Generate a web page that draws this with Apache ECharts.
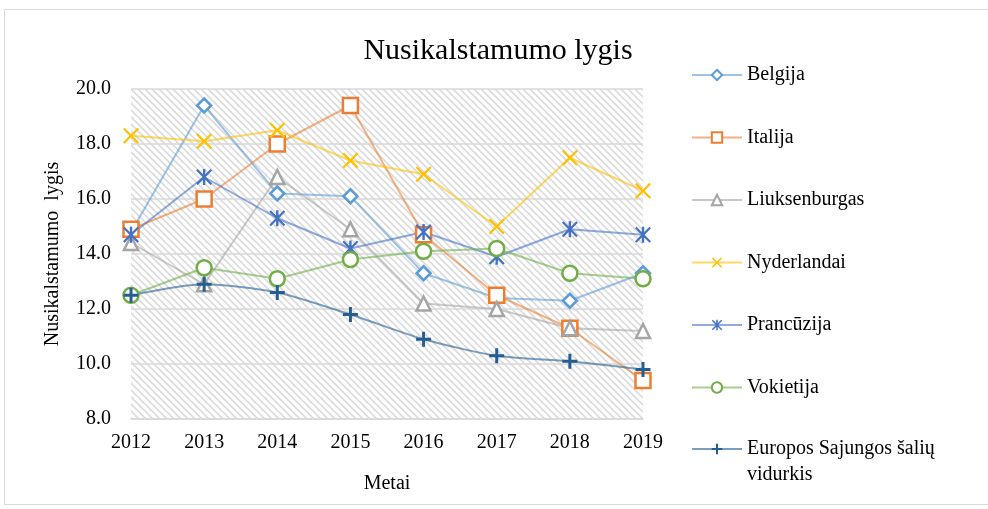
<!DOCTYPE html>
<html>
<head>
<meta charset="utf-8">
<script src="https://cdn.jsdelivr.net/npm/echarts@6/dist/echarts.min.js"></script>
<style>
  html, body { margin: 0; padding: 0; background: #fff; }
  #chart { width: 988px; height: 509px; }
</style>
</head>
<body>
<div id="chart"></div>
<script>
const years = ['2012', '2013', '2014', '2015', '2016', '2017', '2018', '2019'];

const belgija = [14.8, 19.4, 16.2, 16.1, 13.3, 12.4, 12.3, 13.3];
const italija = [14.9, 16.0, 18.0, 19.4, 14.7, 12.5, 11.3, 9.4];
const liuksenburgas = [14.4, 12.9, 16.8, 14.9, 12.2, 12.0, 11.3, 11.2];
const nyderlandai = [18.3, 18.1, 18.5, 17.4, 16.9, 15.0, 17.5, 16.3];
const prancuzija = [14.7, 16.8, 15.3, 14.2, 14.8, 13.9, 14.9, 14.7];
const vokietija = [12.5, 13.5, 13.1, 13.8, 14.1, 14.2, 13.3, 13.1];
const esVidurkis = [12.5, 12.9, 12.6, 11.8, 10.9, 10.3, 10.1, 9.8];

const serif = '"Liberation Serif", "DejaVu Serif", serif';

// diagonal hatch for the plot background
const hatch = document.createElement('canvas');
hatch.width = 7;
hatch.height = 7;
(function () {
  const c = hatch.getContext('2d');
  c.fillStyle = '#fff';
  c.fillRect(0, 0, 7, 7);
  c.strokeStyle = '#dcdcdc';
  c.lineWidth = 1.6;
  c.beginPath();
  c.moveTo(-1, -1); c.lineTo(8, 8);
  c.moveTo(-1, 6); c.lineTo(1, 8);
  c.moveTo(6, -1); c.lineTo(8, 1);
  c.stroke();
})();

const xMark = 'path://M0,2L2,0L10,8L18,0L20,2L12,10L20,18L18,20L10,12L2,20L0,18L8,10Z';
const starMark = 'path://M0,2L2,0L10,8L18,0L20,2L12,10L20,18L18,20L10,12L2,20L0,18L8,10Z M8.5,0H11.5V20H8.5Z';
const plusMark = 'path://M8,0H12V8H20V12H12V20H8V12H0V8H8Z';

function hollow(name, data, color, symbol, size) {
  return {
    name: name, type: 'line', data: data,
    symbol: symbol, symbolSize: size,
    lineStyle: { color: color, width: 2, opacity: 0.6 },
    itemStyle: { color: '#fff', borderColor: color, borderWidth: 2.5 }
  };
}
function filled(name, data, color, symbol, size, smooth) {
  return {
    name: name, type: 'line', data: data,
    symbol: symbol, symbolSize: size, smooth: smooth || false,
    lineStyle: { color: color, width: 2, opacity: 0.6 },
    itemStyle: { color: color, borderWidth: 0 }
  };
}

const legendText = { fontFamily: serif, fontSize: 20, color: '#000' };

const chart = echarts.init(document.getElementById('chart'));

chart.setOption({
  backgroundColor: '#fff',
  animation: false,
  title: {
    text: 'Nusikalstamumo lygis',
    left: 493,
    textAlign: 'center',
    top: 31,
    textStyle: { fontFamily: serif, fontSize: 30, fontWeight: 'normal', color: '#000' }
  },
  graphic: [{
    type: 'rect',
    shape: { x: 4.5, y: 9.5, width: 1000, height: 495 },
    style: { fill: 'none', stroke: '#d9d9d9', lineWidth: 1 },
    silent: true
  }],
  legend: [{
    orient: 'vertical',
    left: 691,
    top: 65,
    padding: 0,
    itemWidth: 50,
    itemHeight: 13,
    itemGap: 42.5,
    textStyle: legendText,
    data: ['Belgija', 'Italija', 'Liuksenburgas', 'Nyderlandai', 'Prancūzija', 'Vokietija']
  }, {
    orient: 'vertical',
    left: 691,
    top: 410,
    padding: 0,
    itemWidth: 50,
    itemHeight: 13,
    textStyle: Object.assign({ lineHeight: 26 }, legendText),
    formatter: function (n) { return '\n' + n.replace(' vidurkis', '\nvidurkis'); },
    data: ['Europos Sajungos šalių vidurkis']
  }],
  grid: {
    left: 131, right: 345, top: 89, bottom: 90,
    show: true,
    backgroundColor: { image: hatch, repeat: 'repeat' },
    borderWidth: 0
  },
  xAxis: {
    type: 'category',
    data: years,
    boundaryGap: false,
    name: 'Metai',
    nameLocation: 'middle',
    nameGap: 55,
    nameTextStyle: { fontFamily: serif, fontSize: 20, color: '#000' },
    axisLine: { lineStyle: { color: '#d9d9d9', width: 1.5 } },
    axisTick: { show: false },
    axisLabel: { fontFamily: serif, fontSize: 20, color: '#000', margin: 14 },
    splitLine: { show: false }
  },
  yAxis: {
    type: 'value',
    min: 8, max: 20, interval: 2,
    name: 'Nusikalstamumo  lygis',
    nameLocation: 'middle',
    nameGap: 68,
    nameTextStyle: { fontFamily: serif, fontSize: 20, color: '#000' },
    axisLine: { show: false },
    axisTick: { show: false },
    axisLabel: {
      fontFamily: serif, fontSize: 20, color: '#000', margin: 20,
      formatter: function (v) { return v.toFixed(1); }
    },
    splitLine: { lineStyle: { color: '#d9d9d9', width: 1.5 } }
  },
  series: [
    hollow('Belgija', belgija, '#5B9BD5', 'diamond', 14),
    hollow('Italija', italija, '#ED7D31', 'rect', 15),
    hollow('Liuksenburgas', liuksenburgas, '#A5A5A5', 'triangle', 14),
    filled('Nyderlandai', nyderlandai, '#FFC000', xMark, 16),
    filled('Prancūzija', prancuzija, '#4472C4', starMark, 16),
    hollow('Vokietija', vokietija, '#70AD47', 'circle', 15),
    filled('Europos Sajungos šalių vidurkis', esVidurkis, '#255E91', plusMark, 15, 0.25)
  ]
});
</script>
</body>
</html>
